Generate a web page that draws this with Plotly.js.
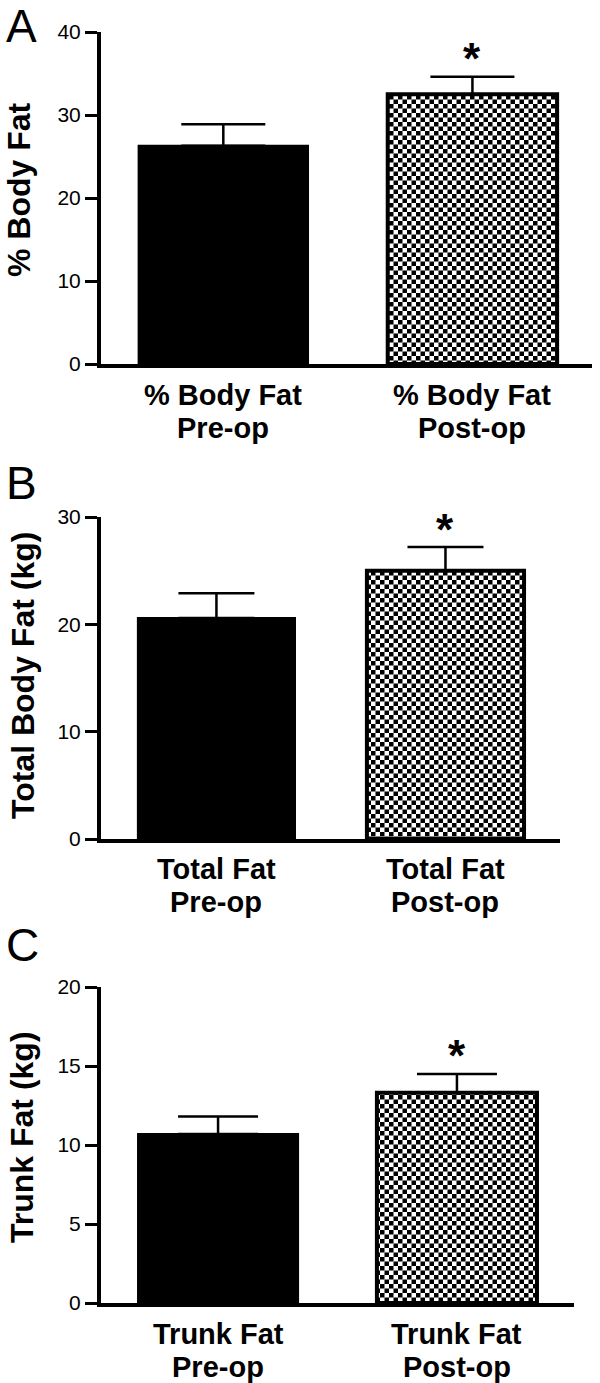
<!DOCTYPE html>
<html><head><meta charset="utf-8">
<script src="https://cdn.plot.ly/plotly-3.0.1.min.js"></script>
<style>html,body{margin:0;padding:0;background:#fff}#chart{width:600px;height:1383px}</style>
</head><body><div id="chart"></div>
<script>
// ---- data ----
const categories = ['Pre-op', 'Post-op'];
const panelLetters = ['A', 'B', 'C'];
const yTitles = ['% Body Fat', 'Total Body Fat (kg)', 'Trunk Fat (kg)'];
const labelStems = ['% Body Fat', 'Total Fat', 'Trunk Fat'];
const bodyFatPct = [26.3, 32.5];
const bodyFatPctSem = [2.6, 2.1];
const totalFatKg = [20.6, 25.0];
const totalFatKgSem = [2.3, 2.2];
const trunkFatKg = [10.7, 13.3];
const trunkFatKgSem = [1.1, 1.2];
const yMax = [40, 30, 20];
const yStep = [10, 10, 5];
const significant = [false, true];

const seriesVals = [bodyFatPct, totalFatKg, trunkFatKg];
const seriesErr = [bodyFatPctSem, totalFatKgSem, trunkFatKgSem];

// ---- layout geometry (pixels) ----
const W = 600, H = 1383;
const FONT = 'Liberation Sans, Arial, Helvetica, sans-serif';
const boxes = [
  {left:101, right:592, top:32,  bottom:364,  r0:-0.491, r1:1.48, bw:0.68,  cap:42, titleX:19, titleDy:8, letterTop:8},
  {left:101, right:560, top:517, bottom:839,  r0:-0.504, r1:1.50, bw:0.686, cap:38, titleX:23, titleDy:2, letterTop:465},
  {left:101, right:574, top:987, bottom:1303, r0:-0.49,  r1:1.49, bw:0.67,  cap:40, titleX:22, titleDy:8, letterTop:927}
];

const data = [];
const layout = {
  width: W, height: H,
  margin: {l:0, r:0, t:0, b:0},
  paper_bgcolor: '#fff', plot_bgcolor: '#fff',
  showlegend: false,
  font: {family: FONT, color: '#000'},
  annotations: []
};

boxes.forEach((b, i) => {
  const n = i === 0 ? '' : String(i + 1);
  const xa = 'x' + n, ya = 'y' + n;
  data.push({
    type: 'bar',
    x: categories,
    y: seriesVals[i],
    xaxis: xa, yaxis: ya,
    width: b.bw,
    marker: {
      color: ['#000', '#fff'],
      line: {color: '#000', width: [2, 4]},
      pattern: {shape: ['', '.'], fgcolor: '#000', bgcolor: '#fff', size: 9, solidity: 0.5, fillmode: 'replace'}
    },
    error_y: {
      type: 'data', symmetric: false,
      array: seriesErr[i], arrayminus: [0, 0],
      color: '#000', thickness: 2.5, width: b.cap
    },
    hoverinfo: 'skip'
  });
  layout['xaxis' + n] = {
    domain: [b.left / W, b.right / W],
    anchor: ya,
    type: 'category',
    range: [b.r0, b.r1],
    showline: true, linecolor: '#000', linewidth: 4,
    ticks: '', showticklabels: false, showgrid: false, zeroline: false,
    fixedrange: true
  };
  layout['yaxis' + n] = {
    domain: [1 - b.bottom / H, 1 - b.top / H],
    anchor: xa,
    range: [0, yMax[i]],
    dtick: yStep[i], tick0: 0,
    ticks: 'outside', ticklen: 12, tickwidth: 3, tickcolor: '#000',
    showline: true, linecolor: '#000', linewidth: 4,
    showgrid: false, zeroline: false,
    tickfont: {family: FONT, size: 21, color: '#000'},
    fixedrange: true
  };
  // y-axis title
  layout.annotations.push({
    text: '<b>' + yTitles[i] + '</b>',
    textangle: -90,
    xref: 'paper', yref: ya + ' domain',
    x: b.titleX / W, y: 0.5, yshift: b.titleDy,
    xanchor: 'center', yanchor: 'middle',
    showarrow: false,
    font: {family: FONT, size: 32, color: '#000'}
  });
  // category labels (two lines)
  categories.forEach((c, j) => {
    layout.annotations.push({
      text: '<b>' + labelStems[i] + '</b>',
      xref: xa, yref: ya, x: c, y: 0,
      xanchor: 'center', yanchor: 'top', yshift: -12.5,
      showarrow: false,
      font: {family: FONT, size: 29, color: '#000'}
    });
    layout.annotations.push({
      text: '<b>' + c + '</b>',
      xref: xa, yref: ya, x: c, y: 0,
      xanchor: 'center', yanchor: 'top', yshift: -45.5,
      showarrow: false,
      font: {family: FONT, size: 29, color: '#000'}
    });
    if (significant[j]) {
      layout.annotations.push({
        text: '<b>*</b>',
        xref: xa, yref: ya, x: c, y: seriesVals[i][j] + seriesErr[i][j],
        xanchor: 'center', yanchor: 'middle', yshift: 18,
        showarrow: false,
        font: {family: FONT, size: 44, color: '#000'}
      });
    }
  });
  // panel letter
  layout.annotations.push({
    text: panelLetters[i],
    xref: 'paper', yref: 'paper',
    x: 4 / W, y: 1 - (b.letterTop - 0.19 * 46 - 1) / H,
    xanchor: 'left', yanchor: 'top',
    showarrow: false,
    font: {family: FONT, size: 46, color: '#000'}
  });
});

function checkerize() {
  const NS = 'http://www.w3.org/2000/svg';
  document.querySelectorAll('#chart pattern').forEach(p => {
    const s = parseFloat(p.getAttribute('width')) || 9;
    while (p.firstChild) p.removeChild(p.firstChild);
    const mk = (x, y, w, h, f) => {
      const r = document.createElementNS(NS, 'rect');
      r.setAttribute('x', x); r.setAttribute('y', y);
      r.setAttribute('width', w); r.setAttribute('height', h);
      r.setAttribute('fill', f);
      p.appendChild(r);
    };
    mk(0, 0, s, s, '#fff');
    mk(0, 0, s / 2, s / 2, '#000');
    mk(s / 2, s / 2, s / 2, s / 2, '#000');
  });
}

Plotly.newPlot('chart', data, layout, {staticPlot: true, displayModeBar: false}).then(() => {
  checkerize();
  setTimeout(checkerize, 50);
});
</script>
</body></html>
